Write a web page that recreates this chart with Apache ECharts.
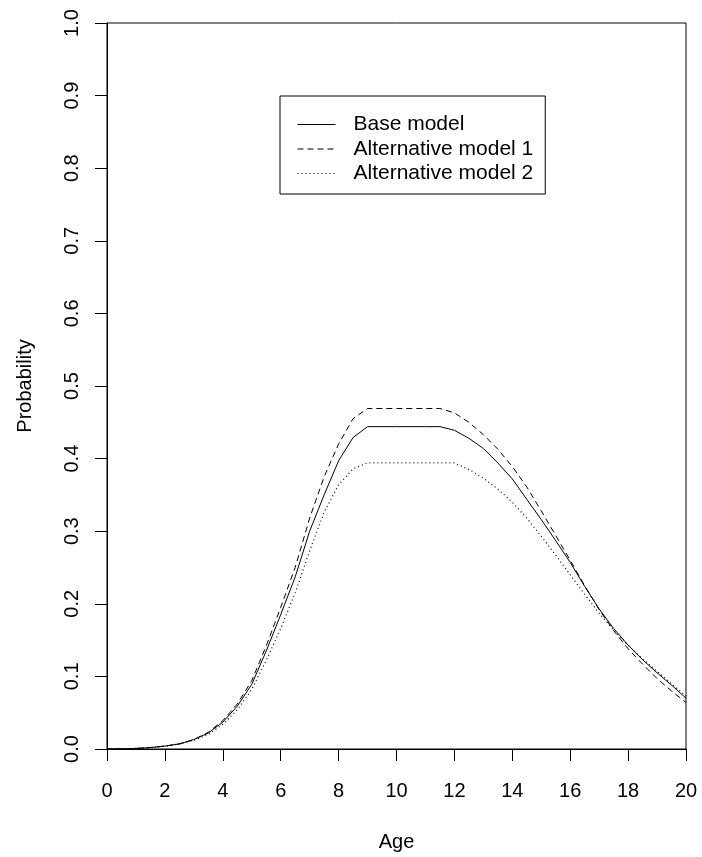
<!DOCTYPE html>
<html>
<head>
<meta charset="utf-8">
<script src="https://cdn.jsdelivr.net/npm/echarts@6/dist/echarts.min.js"></script>
<style>html,body{margin:0;padding:0;background:#fff;}#c{width:702px;height:857px;}</style>
</head>
<body>
<div id="c"></div>
<script>
const ages = [0,0.5,1,1.5,2,2.5,3,3.5,4,4.5,5,5.5,6,6.5,7,7.5,8,8.5,9,9.5,10,10.5,11,11.5,12,12.5,13,13.5,14,14.5,15,15.5,16,16.5,17,17.5,18,18.5,19,19.5,20];
const baseModel = [0.000,0.0003,0.0008,0.002,0.004,0.007,0.013,0.022,0.037,0.059,0.089,0.135,0.185,0.237,0.300,0.350,0.397,0.429,0.444,0.444,0.444,0.444,0.444,0.444,0.439,0.428,0.414,0.394,0.372,0.344,0.316,0.287,0.257,0.224,0.193,0.166,0.143,0.123,0.105,0.088,0.070];
const altModel1 = [0.000,0.0003,0.0008,0.002,0.004,0.007,0.013,0.023,0.039,0.062,0.094,0.142,0.195,0.250,0.318,0.375,0.420,0.455,0.469,0.469,0.469,0.469,0.469,0.469,0.463,0.450,0.433,0.413,0.389,0.361,0.328,0.294,0.260,0.225,0.192,0.163,0.138,0.117,0.097,0.080,0.064];
const altModel2 = [0.000,0.0003,0.0008,0.002,0.004,0.007,0.012,0.020,0.034,0.054,0.082,0.122,0.166,0.215,0.273,0.326,0.364,0.386,0.394,0.394,0.394,0.394,0.394,0.394,0.394,0.385,0.373,0.358,0.340,0.318,0.293,0.267,0.240,0.213,0.187,0.164,0.143,0.124,0.107,0.090,0.073];
const seriesNames = ['Base model','Alternative model 1','Alternative model 2'];

const pairs = arr => ages.map((a,i)=>[a, arr[i]]);
const font = 'Liberation Sans, Arial, sans-serif';
const chart = echarts.init(document.getElementById('c'));
chart.setOption({
  animation: false,
  backgroundColor: '#fff',
  grid: {left:107, top:23, right:16, bottom:107, show:true, borderColor:'#000', borderWidth:1},
  legend: {
    left: 280, top: 96, orient:'vertical',
    borderColor:'#000', borderWidth:1, borderRadius:0,
    padding:[18,12,10,17], itemGap:3.5, itemWidth:38, itemHeight:14,
    itemStyle:{opacity:0},
    lineStyle:{width:1},
    textStyle:{fontFamily:font, fontSize:21, color:'#000', lineHeight:21, padding:[0,0,0,13]},
    data: seriesNames
  },
  xAxis: {
    type:'value', min:0, max:20, interval:2,
    name:'Age', nameLocation:'middle', nameGap:83,
    nameTextStyle:{fontFamily:font, fontSize:20, color:'#000'},
    axisLine:{onZero:false, lineStyle:{color:'#000', width:1}},
    axisTick:{show:true, length:12, lineStyle:{color:'#000'}},
    axisLabel:{fontFamily:font, fontSize:20, color:'#000', margin:32},
    splitLine:{show:false}
  },
  yAxis: {
    type:'value', min:0, max:1, interval:0.1,
    name:'Probability', nameLocation:'middle', nameGap:72,
    nameTextStyle:{fontFamily:font, fontSize:20, color:'#000'},
    axisLine:{show:true, onZero:false, lineStyle:{color:'#000', width:1}},
    axisTick:{show:true, length:12, lineStyle:{color:'#000'}},
    axisLabel:{fontFamily:font, fontSize:20, color:'#000', rotate:90, margin:25, formatter: v => v.toFixed(1)},
    splitLine:{show:false}
  },
  series: [
    {name:seriesNames[0], type:'line', data:pairs(baseModel), symbol:'none', lineStyle:{color:'#000', width:1, type:'solid'}, itemStyle:{color:'#000'}},
    {name:seriesNames[1], type:'line', data:pairs(altModel1), symbol:'none', lineStyle:{color:'#000', width:1, type:[6,4]}, itemStyle:{color:'#000'}},
    {name:seriesNames[2], type:'line', data:pairs(altModel2), symbol:'none', lineStyle:{color:'#000', width:1.2, type:[1,3]}, itemStyle:{color:'#000'}}
  ]
});
</script>
</body>
</html>
